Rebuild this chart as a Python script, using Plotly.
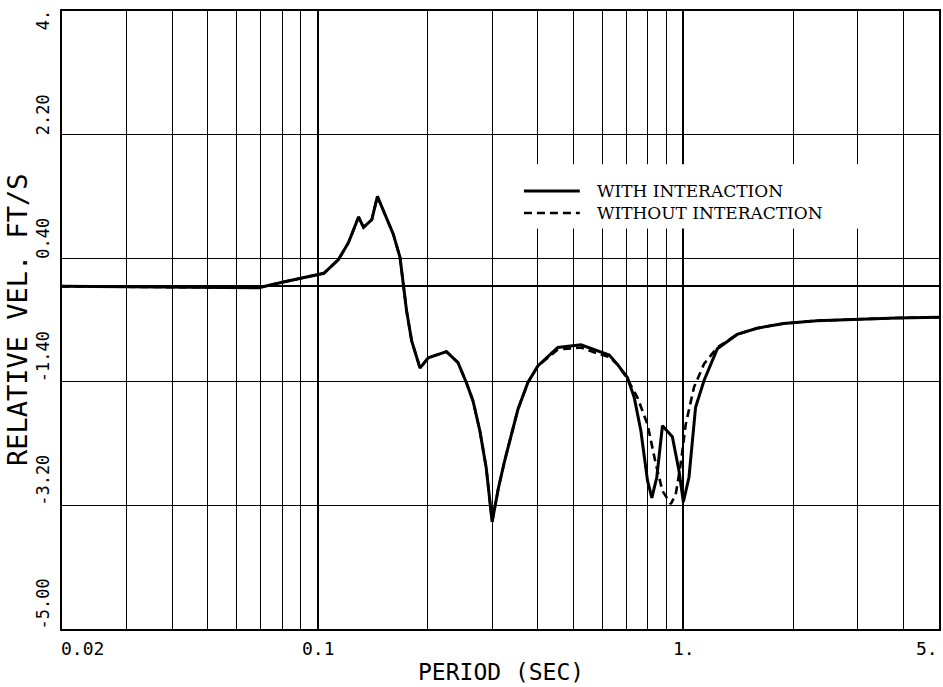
import numpy as np
import plotly.graph_objects as go

# ---------------- data ----------------
period_with = [0.02, 0.03, 0.04, 0.05, 0.06, 0.069, 0.08, 0.09, 0.1, 0.104, 0.114,
               0.1215, 0.1294, 0.1335, 0.1406, 0.1457, 0.161, 0.168, 0.1715, 0.175,
               0.1807, 0.1905, 0.2007, 0.225, 0.242, 0.255, 0.266, 0.2776, 0.289,
               0.30, 0.312, 0.3246, 0.353, 0.3758, 0.40, 0.4535, 0.525, 0.583, 0.627,
               0.661, 0.7035, 0.734, 0.765, 0.798, 0.82, 0.846, 0.8766, 0.933, 0.973,
               1.0, 1.036, 1.08, 1.139, 1.238, 1.403, 1.59, 1.88, 2.318, 2.98, 3.83, 5.0]
vel_with = [-0.01, -0.02, -0.02, -0.03, -0.03, -0.03, 0.05, 0.11, 0.16, 0.18, 0.38,
            0.63, 1.00, 0.85, 0.96, 1.30, 0.75, 0.41, 0.02, -0.36,
            -0.80, -1.20, -1.05, -0.96, -1.12, -1.41, -1.68, -2.11, -2.65,
            -3.44, -2.95, -2.55, -1.80, -1.41, -1.17, -0.90, -0.86, -0.95, -1.01,
            -1.15, -1.34, -1.63, -2.11, -2.84, -3.09, -2.79, -2.04, -2.20, -2.70,
            -3.15, -2.79, -1.77, -1.38, -0.92, -0.71, -0.62, -0.55, -0.51, -0.49, -0.47, -0.46]

period_without = [0.02, 0.03, 0.04, 0.05, 0.06, 0.069, 0.08, 0.09, 0.1, 0.104, 0.114,
                  0.1215, 0.1294, 0.1335, 0.1406, 0.1457, 0.161, 0.168, 0.1715, 0.175,
                  0.1807, 0.1905, 0.2007, 0.225, 0.242, 0.255, 0.266, 0.2776, 0.289,
                  0.30, 0.312, 0.3246, 0.353, 0.3758, 0.40, 0.4535, 0.525, 0.583, 0.627,
                  0.661, 0.70, 0.749, 0.798, 0.841, 0.877, 0.924, 0.953, 0.983, 1.015,
                  1.069, 1.139, 1.238, 1.403, 1.59, 1.88, 2.318, 2.98, 3.83, 5.0]
vel_without = [-0.01, -0.02, -0.02, -0.03, -0.03, -0.03, 0.05, 0.11, 0.16, 0.18, 0.38,
               0.63, 1.00, 0.85, 0.96, 1.30, 0.75, 0.41, 0.02, -0.36,
               -0.80, -1.20, -1.05, -0.96, -1.12, -1.41, -1.68, -2.11, -2.65,
               -3.44, -2.95, -2.55, -1.80, -1.41, -1.17, -0.93, -0.90, -0.99, -1.04,
               -1.15, -1.34, -1.63, -2.02, -2.60, -2.99, -3.18, -3.04, -2.60, -2.02,
               -1.48, -1.14, -0.90, -0.71, -0.62, -0.55, -0.51, -0.49, -0.47, -0.46]

series_names = ["WITH INTERACTION", "WITHOUT INTERACTION"]

x_tick_vals = [0.02, 0.1, 1.0, 5.0]
x_tick_text = ["0.02", "0.1", "1.", "5."]
x_minor_vals = [0.03, 0.04, 0.05, 0.06, 0.07, 0.08, 0.09,
                0.2, 0.3, 0.4, 0.5, 0.6, 0.7, 0.8, 0.9,
                2.0, 3.0, 4.0]
y_tick_vals = [-5.0, -3.2, -1.4, 0.4, 2.2, 4.0]
y_tick_text = ["-5.00", "-3.20", "-1.40", "0.40", "2.20", "4."]

x_title = "PERIOD (SEC)"
y_title = "RELATIVE VEL. FT/S"

# ---------------- figure ----------------
MONO = "DejaVu Sans Mono"
SERIF = "DejaVu Serif"
YT_SIZE = 17
YT_CHAR = 0.602 * YT_SIZE

fig = go.Figure()
fig.add_trace(go.Scatter(x=period_without, y=vel_without, mode="lines", name=series_names[1],
                         line=dict(color="black", width=2.6, dash="8px,5px"), showlegend=False))
fig.add_trace(go.Scatter(x=period_with, y=vel_with, mode="lines", name=series_names[0],
                         line=dict(color="black", width=3), showlegend=False))

fig.update_layout(
    width=943, height=687,
    margin=dict(l=62, r=2, t=11, b=58),
    paper_bgcolor="white", plot_bgcolor="white",
    showlegend=False,
    xaxis=dict(type="log", range=[np.log10(0.02), np.log10(5.0)],
               tickvals=x_tick_vals, showticklabels=False, ticks="",
               showgrid=True, gridcolor="black", gridwidth=2,
               minor=dict(tickvals=x_minor_vals, showgrid=True, gridcolor="black",
                          gridwidth=1, ticks=""),
               showline=True, linecolor="black", linewidth=2, mirror=True,
               zeroline=False),
    yaxis=dict(range=[-5.0, 4.0], tickvals=y_tick_vals, showticklabels=False, ticks="",
               showgrid=True, gridcolor="black", gridwidth=1.2,
               zeroline=True, zerolinecolor="black", zerolinewidth=1.8,
               showline=True, linecolor="black", linewidth=2, mirror=True),
)

annotations = []
# x tick labels
for i, (v, t) in enumerate(zip(x_tick_vals, x_tick_text)):
    anchor = "left" if i == 0 else ("right" if i == len(x_tick_vals) - 1 else "center")
    annotations.append(dict(x=np.log10(v), xref="x", y=0, yref="paper", text=t,
                            showarrow=False, xanchor=anchor, yanchor="middle",
                            xshift=(-3 if anchor == "left" else 1), yshift=-19,
                            font=dict(family=MONO, size=18, color="black")))
# y tick labels (rotated, reading upward from the tick)
for i, (v, t) in enumerate(zip(y_tick_vals, y_tick_text)):
    half = len(t) * YT_CHAR / 2
    shift = -(half - 1) if i == len(y_tick_vals) - 1 else half - 1
    annotations.append(dict(x=0, xref="paper", y=v, yref="y", text=t, textangle=-90,
                            showarrow=False, xanchor="center", yanchor="middle",
                            xshift=-19, yshift=shift,
                            font=dict(family=MONO, size=YT_SIZE, color="black")))
# axis titles
annotations.append(dict(x=0.5, xref="paper", y=0, yref="paper", text=x_title,
                        showarrow=False, xanchor="center", yanchor="middle", yshift=-43,
                        font=dict(family=MONO, size=23, color="black")))
annotations.append(dict(x=0, xref="paper", y=0.5, yref="paper", text=y_title, textangle=-90,
                        showarrow=False, xanchor="center", yanchor="middle", xshift=-45,
                        font=dict(family=MONO, size=27, color="black")))

# legend (drawn manually to match the original layout)
LEG_Y1, LEG_Y2 = 0.7087, 0.6731
shapes = [
    dict(type="rect", xref="paper", yref="paper", x0=0.527, x1=0.925, y0=0.648, y1=0.752,
         fillcolor="white", line=dict(width=0), layer="above"),
    dict(type="line", xref="paper", yref="paper", x0=0.5267, x1=0.5904, y0=LEG_Y1, y1=LEG_Y1,
         line=dict(color="black", width=3), layer="above"),
    dict(type="line", xref="paper", yref="paper", x0=0.5267, x1=0.5904, y0=LEG_Y2, y1=LEG_Y2,
         line=dict(color="black", width=2.6, dash="8px,5px"), layer="above"),
]
annotations.append(dict(x=0.6086, xref="paper", y=(LEG_Y1 + LEG_Y2) / 2, yref="paper",
                        text="<br>".join(series_names), align="left",
                        showarrow=False, xanchor="left", yanchor="middle", borderpad=0,
                        font=dict(family=SERIF, size=17, color="black")))

fig.update_layout(annotations=annotations, shapes=shapes)
fig.write_html("out.html")
